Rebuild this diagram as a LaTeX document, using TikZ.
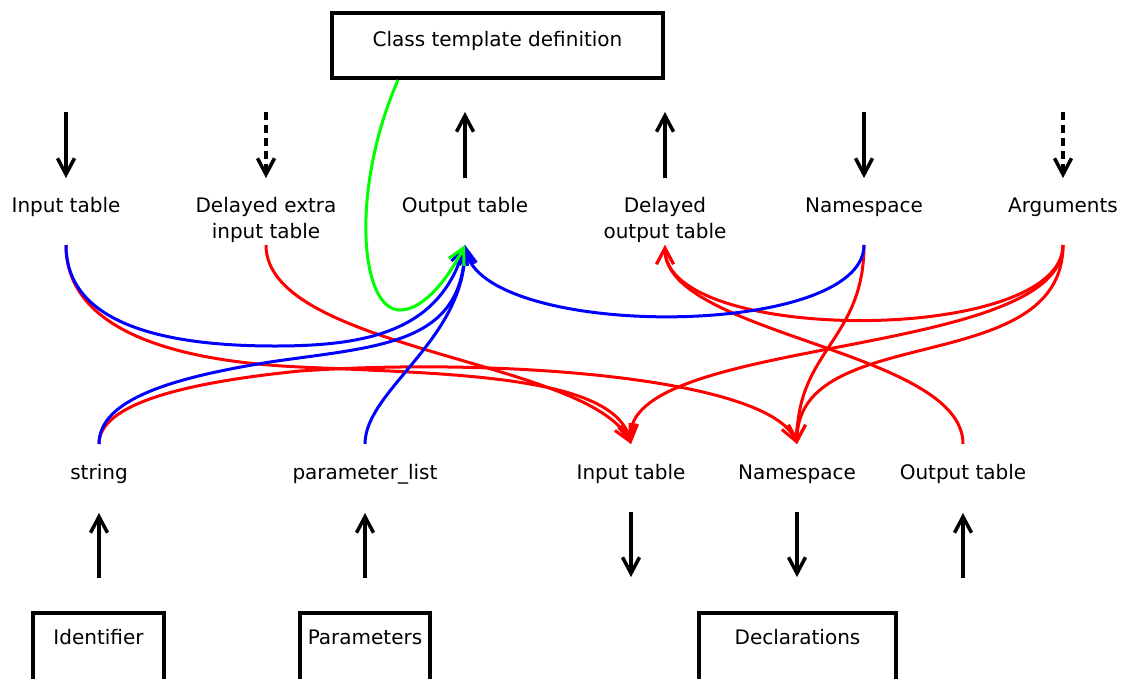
\documentclass[tikz,border=0pt]{standalone}
\usepackage{fontspec}
\setmainfont{DejaVu Sans}
\usetikzlibrary{arrows.meta}
\definecolor{linkred}{RGB}{255,0,0}
\definecolor{linkblue}{RGB}{0,0,255}
\definecolor{linkgreen}{RGB}{0,255,0}
\begin{document}
\begin{tikzpicture}[x=1pt,y=-1pt,
  lbl/.style={anchor=base,inner sep=0pt,font=\fontsize{20}{26}\selectfont,align=center},
  blockbox/.style={draw,line width=4.5pt,inner sep=0pt,anchor=base,font=\fontsize{20}{26}\selectfont},
  barb/.style={-{Straight Barb[length=16pt,width=17pt]}},
  flow/.style={barb,line width=3.5pt},
  delayed/.style={flow,dash pattern=on 8pt off 5pt},
  link/.style={barb,line width=3pt},
]
\clip (0,0) rectangle (1130,678);

% boxes
\node[blockbox,minimum width=331pt,text height=33pt,text depth=32pt] (cls) at (497.5,46) {Class template definition};
\node[blockbox,minimum width=131pt,text height=31pt,text depth=60pt] (ident) at (98.5,644) {Identifier};
\node[blockbox,minimum width=130pt,text height=31pt,text depth=60pt] (params) at (365,644) {Parameters};
\node[blockbox,minimum width=197pt,text height=31pt,text depth=60pt] (decls) at (797.5,644) {Declarations};

% upper row of labels (two-line labels are placed by their last baseline)
\node[lbl] (tIn)  at (66,212)   {Input table};
\node[lbl] (tDx)  at (266,238)  {Delayed extra\\input table};
\node[lbl] (tOut) at (465,212)  {Output table};
\node[lbl] (tDo)  at (665,238)  {Delayed\\output table};
\node[lbl] (tNs)  at (864,212)  {Namespace};
\node[lbl] (tArg) at (1063,212) {Arguments};

% lower row of labels
\node[lbl] (bStr) at (99,479)  {string};
\node[lbl] (bPar) at (365,479) {parameter\_list};
\node[lbl] (bIn)  at (631,479) {Input table};
\node[lbl] (bNs)  at (797,479) {Namespace};
\node[lbl] (bOut) at (963,479) {Output table};

% attachment points of the links
\coordinate (tIn-p)  at (66,245);
\coordinate (tDx-p)  at (266,245);
\coordinate (tOut-p) at (465,245);
\coordinate (tDo-p)  at (665,245);
\coordinate (tNs-p)  at (864,245);
\coordinate (tArg-p) at (1063,245);
\coordinate (bStr-p) at (99,444);
\coordinate (bPar-p) at (365,444);
\coordinate (bIn-p)  at (631,444);
\coordinate (bNs-p)  at (797,444);
\coordinate (bOut-p) at (963,444);
\coordinate (cls-p)  at (398,80);

% ends of the black flow arrows
\coordinate (tIn-hi)  at (66,112);   \coordinate (tIn-lo)  at (66,178);
\coordinate (tDx-hi)  at (266,112);  \coordinate (tDx-lo)  at (266,178);
\coordinate (tOut-hi) at (465,112);  \coordinate (tOut-lo) at (465,178);
\coordinate (tDo-hi)  at (665,112);  \coordinate (tDo-lo)  at (665,178);
\coordinate (tNs-hi)  at (864,112);  \coordinate (tNs-lo)  at (864,178);
\coordinate (tArg-hi) at (1063,112); \coordinate (tArg-lo) at (1063,178);
\coordinate (bStr-hi) at (99,513);   \coordinate (bStr-lo) at (99,578);
\coordinate (bPar-hi) at (365,513);  \coordinate (bPar-lo) at (365,578);
\coordinate (bIn-hi)  at (631,512);  \coordinate (bIn-lo)  at (631,577);
\coordinate (bNs-hi)  at (797,512);  \coordinate (bNs-lo)  at (797,577);
\coordinate (bOut-hi) at (963,513);  \coordinate (bOut-lo) at (963,578);

% black flow arrows
\draw[flow]    (tIn-hi)  -- (tIn-lo);
\draw[delayed] (tDx-hi)  -- (tDx-lo);
\draw[flow]    (tOut-lo) -- (tOut-hi);
\draw[flow]    (tDo-lo)  -- (tDo-hi);
\draw[flow]    (tNs-hi)  -- (tNs-lo);
\draw[delayed] (tArg-hi) -- (tArg-lo);
\draw[flow]    (bStr-lo) -- (bStr-hi);
\draw[flow]    (bPar-lo) -- (bPar-hi);
\draw[flow]    (bIn-hi)  -- (bIn-lo);
\draw[flow]    (bNs-hi)  -- (bNs-lo);
\draw[flow]    (bOut-lo) -- (bOut-hi);

% red links
\draw[link,linkred] (tIn-p) .. controls (66,320) and (150,360) .. (300,367)
                            .. controls (450,374) and (615,375) .. (bIn-p);
\draw[link,linkred] (tDx-p) .. controls (266,350) and (590,360) .. (bIn-p);
\draw[link,linkred] (bStr-p) .. controls (99,410) and (160,385) .. (300,371)
                             .. controls (500,357) and (770,378) .. (bNs-p);
\draw[link,linkred] (tArg-p) .. controls (1063,345) and (665,345) .. (tDo-p);
\draw[link,linkred] (tArg-p) .. controls (1063,360) and (620,335) .. (bIn-p);
\draw[link,linkred] (tArg-p) .. controls (1063,380) and (797,320) .. (bNs-p);
\draw[link,linkred] (tNs-p) .. controls (864,340) and (797,350) .. (bNs-p);
\draw[link,linkred] (bOut-p) .. controls (963,350) and (665,335) .. (tDo-p);

% blue links
\draw[link,linkblue] (tIn-p) .. controls (66,330) and (180,346) .. (275,346)
                             .. controls (370,346) and (440,330) .. (tOut-p);
\draw[link,linkblue] (bStr-p) .. controls (99,400) and (170,378) .. (270,362)
                              .. controls (380,346) and (462,345) .. (tOut-p);
\draw[link,linkblue] (bPar-p) .. controls (365,390) and (465,340) .. (tOut-p);
\draw[link,linkblue] (tNs-p) .. controls (864,340) and (480,340) .. (tOut-p);

% green link
\draw[link,linkgreen] (cls-p) .. controls (350,190) and (360,310) .. (400,310)
                              .. controls (425,310) and (450,275) .. (tOut-p);
\end{tikzpicture}
\end{document}
